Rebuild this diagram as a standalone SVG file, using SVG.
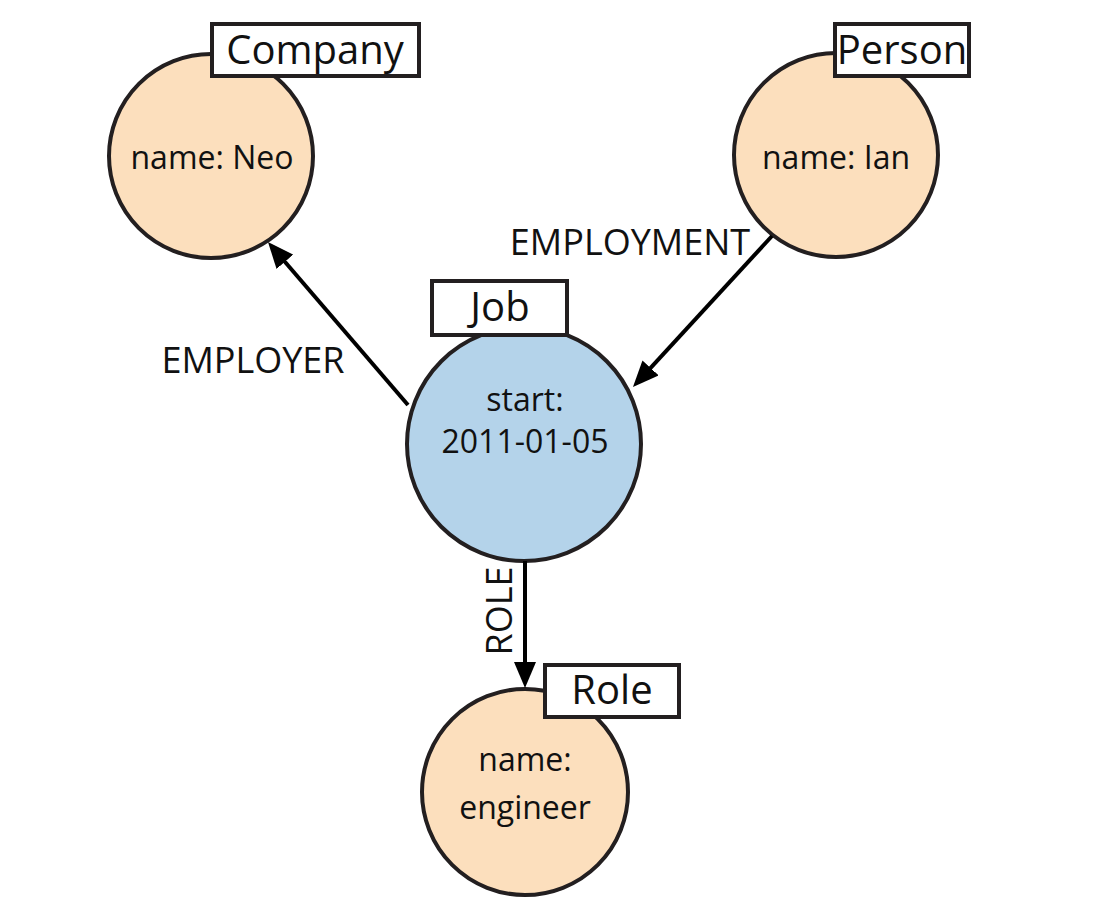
<svg xmlns="http://www.w3.org/2000/svg" width="1094" height="920" viewBox="0 0 1094 920">
<style>
.bg{fill:#ffffff}
.peach{fill:#fcdfbd;stroke:#231f20;stroke-width:4}
.blue{fill:#b4d3ea;stroke:#231f20;stroke-width:4}
.lbl{fill:#ffffff;stroke:#231f20;stroke-width:4}
.t{font-family:"Open Sans","Noto Sans",sans-serif;fill:#111111;text-anchor:middle}
.big{font-size:40px}
.mid{font-size:32px}
.edge{font-size:36px}
.conn{stroke:#000000;stroke-width:4;fill:none}
</style>
<defs>
<marker id="arr" viewBox="0 0 26 22" refX="6" refY="11" markerWidth="26" markerHeight="22" markerUnits="userSpaceOnUse" orient="auto">
<path d="M0,0 L26,11 L0,22 z" fill="#000000"/>
</marker>
</defs>
<rect class="bg" x="0" y="0" width="1094" height="920"/>
<g id="company">
<circle class="peach" cx="211" cy="156" r="102"/>
<rect class="lbl" x="212" y="24" width="207" height="52"/>
<text class="t big" x="315" y="64">Company</text>
<text class="t mid" x="212" y="169">name: Neo</text>
</g>
<g id="person">
<circle class="peach" cx="836" cy="155" r="102"/>
<rect class="lbl" x="835" y="24" width="134" height="52"/>
<text class="t big" x="902" y="64">Person</text>
<text class="t mid" x="836" y="169">name: Ian</text>
</g>
<g id="job">
<circle class="blue" cx="524" cy="444" r="117"/>
<rect class="lbl" x="432" y="281" width="135" height="54"/>
<text class="t big" x="500" y="321">Job</text>
<text class="t mid" x="525" y="411">start:</text>
<text class="t mid" x="525" y="453">2011-01-05</text>
</g>
<g id="role">
<circle class="peach" cx="525" cy="792" r="103"/>
<rect class="lbl" x="545" y="665" width="134" height="52"/>
<text class="t big" x="612" y="704">Role</text>
<text class="t mid" x="525" y="771">name:</text>
<text class="t mid" x="525" y="819">engineer</text>
</g>
<g id="connectors">
<line class="conn" x1="408" y1="405" x2="281" y2="257.2" marker-end="url(#arr)"/>
<line class="conn" x1="772" y1="236" x2="646.5" y2="372.3" marker-end="url(#arr)"/>
<line class="conn" x1="525" y1="561" x2="525" y2="668" marker-end="url(#arr)"/>
<text class="t edge" x="253" y="373">EMPLOYER</text>
<text class="t edge" x="630" y="255">EMPLOYMENT</text>
<text class="t edge" transform="translate(512,611) rotate(-90)" x="0" y="0">ROLE</text>
</g>
</svg>
